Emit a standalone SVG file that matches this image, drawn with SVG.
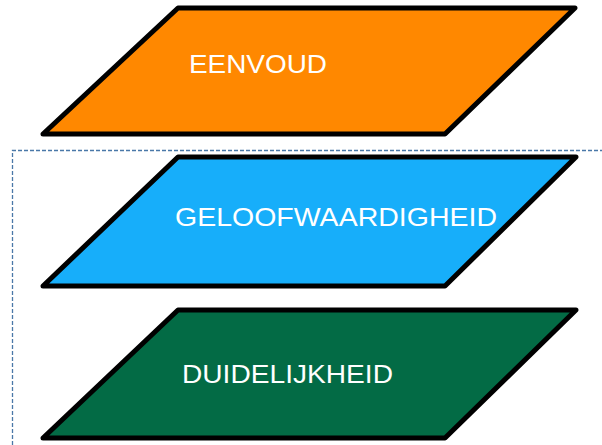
<svg xmlns="http://www.w3.org/2000/svg" width="602" height="445" viewBox="0 0 602 445">
<style>
.shape{stroke:#000;stroke-width:5;stroke-linejoin:round}
.lbl{font-family:"Comic Sans MS","Liberation Sans",sans-serif;font-size:25px;fill:#fff;letter-spacing:0}
.frame{fill:none;stroke:#4a78a8;stroke-width:1.3;stroke-dasharray:4 2}
</style>
<rect width="602" height="445" fill="#fff"/>
<g id="connectors">
<path class="frame" d="M12.5,445 V150.5 H602"/>
</g>
<g id="eenvoud">
<polygon class="shape" fill="#ff8800" points="178,8 575,8 445,134 43,134"/>
<text class="lbl" x="189" y="73" textLength="138" lengthAdjust="spacingAndGlyphs">EENVOUD</text>
</g>
<g id="geloofwaardigheid">
<polygon class="shape" fill="#17aefa" points="178,157 576,157 445,286 43,286"/>
<text class="lbl" x="175" y="226" textLength="322" lengthAdjust="spacingAndGlyphs">GELOOFWAARDIGHEID</text>
</g>
<g id="duidelijkheid">
<polygon class="shape" fill="#036b45" points="178,310 576,310 445,438 43,438"/>
<text class="lbl" x="182" y="383" textLength="211" lengthAdjust="spacingAndGlyphs">DUIDELIJKHEID</text>
</g>
</svg>
